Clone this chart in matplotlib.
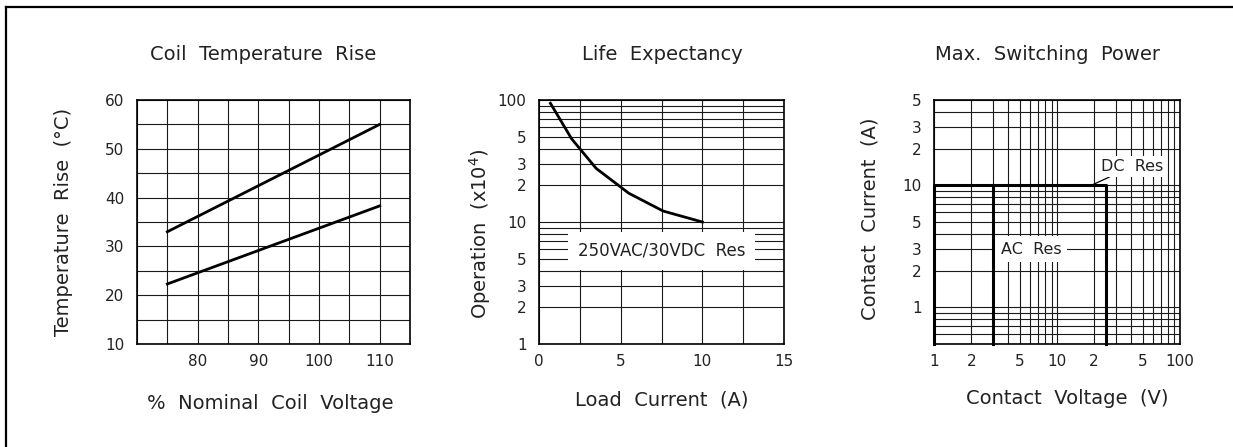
import numpy as np
import matplotlib
matplotlib.use("Agg")
import matplotlib.pyplot as plt
from matplotlib.ticker import MultipleLocator, LogLocator, NullFormatter
from matplotlib.lines import Line2D

# --- data ---
coil_volt = [75, 110]
rise_upper = [33.0, 55.0]
rise_lower = [22.3, 38.3]

load_current = [0.7, 2.0, 3.5, 5.5, 7.6, 10.0]
operations = [94, 48, 27.5, 17.2, 12.3, 10.0]

dc_volt = [1, 1, 25, 25]
dc_curr = [0.5, 10, 10, 0.5]
ac_volt = [3, 3]
ac_curr = [10, 0.5]

life_yticks = [1, 2, 3, 5, 10, 20, 30, 50, 100]
life_ylabels = ["1", "2", "3", "5", "10", "2", "3", "5", "100"]
pow_yticks = [1, 2, 3, 5, 10, 20, 30, 50]
pow_ylabels = ["1", "2", "3", "5", "10", "2", "3", "5"]
pow_xticks = [1, 2, 5, 10, 20, 50, 100]
pow_xlabels = ["1", "2", "5", "10", "2", "5", "100"]

plt.rcParams['font.family'] = ['DejaVu Sans']
W, H = 1233, 447
fig = plt.figure(figsize=(W / 100, H / 100), dpi=100)

def box(l, r, t=100, b=344):
    return [l / W, 1 - b / H, (r - l) / W, (b - t) / H]

ax1 = fig.add_axes(box(137, 410))
ax2 = fig.add_axes(box(539, 784))
ax3 = fig.add_axes(box(934.3, 1180))

grid_kw = dict(color='#1a1a1a', linewidth=0.8)
for ax in (ax1, ax2, ax3):
    ax.set_axisbelow(True)
    ax.grid(True, which='both', **grid_kw)
    ax.tick_params(which='both', length=0, labelsize=11, colors='#222222')
    ax.tick_params(axis='y', pad=9)
    ax.tick_params(axis='x', pad=7)
    for s in ax.spines.values():
        s.set_linewidth(1.2)

lab = dict(fontsize=14, color='#222222')

# Coil temperature rise
ax1.plot(coil_volt, rise_upper, color='black', lw=2.0)
ax1.plot(coil_volt, rise_lower, color='black', lw=2.0)
ax1.set_xlim(70, 115)
ax1.set_ylim(10, 60)
ax1.set_xticks([80, 90, 100, 110])
ax1.set_yticks([10, 20, 30, 40, 50, 60])
ax1.xaxis.set_minor_locator(MultipleLocator(5))
ax1.yaxis.set_minor_locator(MultipleLocator(5))
ax1.set_title("Coil  Temperature  Rise", x=0.462, y=1.152, va='center', **lab)
ax1.set_xlabel("%  Nominal  Coil  Voltage", va='center', **lab)
ax1.xaxis.set_label_coords(0.487, -0.242)
ax1.set_ylabel("Temperature  Rise  (°C)", va='center', **lab)
ax1.yaxis.set_label_coords(-0.271, 0.502)

# Life expectancy
ax2.plot(load_current, operations, color='black', lw=2.0, zorder=4)
ax2.set_yscale('log')
ax2.set_xlim(0, 15)
ax2.set_ylim(1, 100)
ax2.set_xticks([0, 5, 10, 15])
ax2.xaxis.set_minor_locator(MultipleLocator(2.5))
ax2.set_yticks(life_yticks)
ax2.set_yticklabels(life_ylabels)
ax2.yaxis.set_minor_locator(LogLocator(base=10, subs=np.arange(2, 10)))
ax2.yaxis.set_minor_formatter(NullFormatter())
ax2.text(7.5, 5.8, "250VAC/30VDC  Res", ha='center', va='center', fontsize=12,
         color='#222222', zorder=3,
         bbox=dict(facecolor='white', edgecolor='none', pad=7))
ax2.set_title("Life  Expectancy", x=0.502, y=1.152, va='center', **lab)
ax2.set_xlabel("Load  Current  (A)", va='center', **lab)
ax2.xaxis.set_label_coords(0.501, -0.230)
ax2.set_ylabel("Operation  (x10$^4$)", va='center', **lab)
ax2.yaxis.set_label_coords(-0.241, 0.451)

# Max switching power
ax3.plot(dc_volt, dc_curr, color='black', lw=2.2, zorder=4, clip_on=False)
ax3.plot(ac_volt, ac_curr, color='black', lw=2.2, zorder=4, clip_on=False)
ax3.set_xscale('log')
ax3.set_yscale('log')
ax3.set_xlim(1, 100)
ax3.set_ylim(0.5, 50)
ax3.set_xticks(pow_xticks)
ax3.set_xticklabels(pow_xlabels)
ax3.set_yticks(pow_yticks)
ax3.set_yticklabels(pow_ylabels)
for axis in (ax3.xaxis, ax3.yaxis):
    axis.set_minor_locator(LogLocator(base=10, subs=np.arange(2, 10)))
    axis.set_minor_formatter(NullFormatter())
ax3.annotate("DC  Res", xy=(19, 10), xytext=(40.6, 14.2), ha='center', va='center',
             fontsize=11.5, color='#222222', zorder=3,
             bbox=dict(facecolor='white', edgecolor='none', pad=2),
             arrowprops=dict(arrowstyle='-', color='black', lw=0.9, shrinkA=0, shrinkB=0))
ax3.annotate("AC  Res", xy=(3.0, 3.45), xytext=(6.15, 3.0), ha='center', va='center',
             fontsize=11.5, color='#222222', zorder=3,
             bbox=dict(facecolor='white', edgecolor='none', pad=4),
             arrowprops=dict(arrowstyle='-', color='black', lw=0.9, shrinkA=0, shrinkB=0))
ax3.set_title("Max.  Switching  Power", x=0.459, y=1.152, va='center', **lab)
ax3.set_xlabel("Contact  Voltage  (V)", va='center', **lab)
ax3.xaxis.set_label_coords(0.542, -0.225)
ax3.set_ylabel("Contact  Current  (A)", va='center', **lab)
ax3.yaxis.set_label_coords(-0.262, 0.512)

# partial outer frame
fx, fy = 6 / W, 1 - 7 / H
fig.add_artist(Line2D([fx, fx], [0, fy], color='black', lw=1.6))
fig.add_artist(Line2D([fx, 1], [fy, fy], color='black', lw=1.6))

fig.savefig("out.png", dpi=100)
